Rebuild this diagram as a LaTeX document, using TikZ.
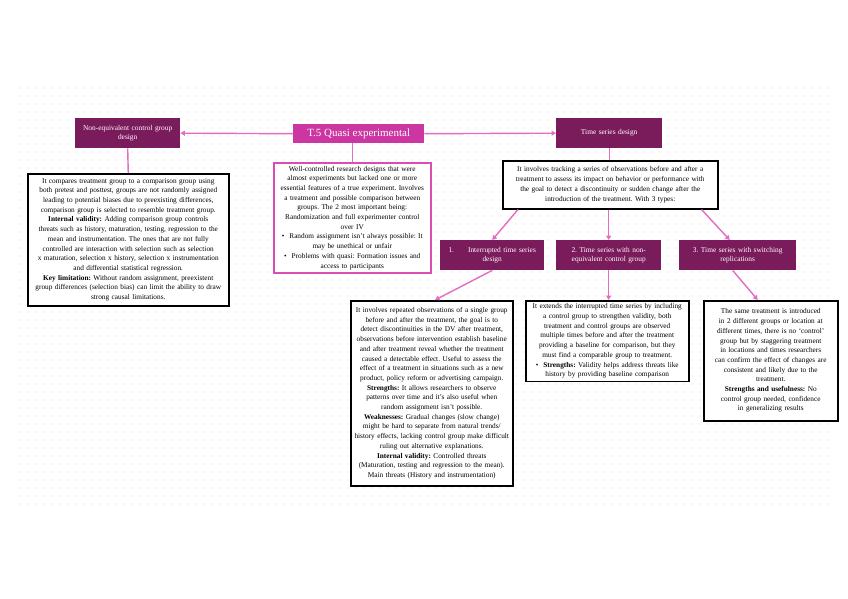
\documentclass[tikz,border=0pt]{standalone}
\usepackage{fontspec}
\setmainfont{Liberation Serif}
\usetikzlibrary{arrows.meta}
\definecolor{darkplum}{HTML}{7A1B5C}
\definecolor{magmain}{HTML}{CC36A3}
\definecolor{pinkline}{HTML}{E56BC3}
\definecolor{pinkborder}{HTML}{D94DB5}
\definecolor{dotgray}{HTML}{D0D0D0}
\newcommand{\boxfont}{\fontsize{7.3}{9.7}\selectfont\frenchspacing\hyphenpenalty=10000\exhyphenpenalty=10000}
\newcommand{\topicfont}{\fontsize{7.4}{9.6}\selectfont\frenchspacing\hyphenpenalty=10000}
\tikzset{
  topic/.style={fill=darkplum, text=white, font=\topicfont, align=center, inner sep=1pt, minimum height=30pt, anchor=north west},
  central/.style={fill=magmain, text=white, font=\fontsize{11}{13}\selectfont, inner sep=0pt, minimum height=19pt, minimum width=131pt, anchor=north west},
  textbox/.style={draw=black, line width=1.5pt, fill=white, inner xsep=2pt, inner ysep=3pt, align=center, anchor=north west, font=\boxfont},
  pinkbox/.style={textbox, draw=pinkborder},
  conn/.style={draw=pinkline, line width=1.4pt},
  arr/.style={conn, -{Triangle[length=4.5pt,width=5pt]}}
}
\newcommand{\bul}{\textbullet\hspace{5pt}}
\begin{document}
\begin{tikzpicture}[x=1pt,y=-1pt]
\useasboundingbox (0,0) rectangle (848,599);
\fill[white] (0,0) rectangle (848,599);
% dot grid
\foreach \i in {0,...,101}{
  \foreach \j in {0,...,52}{
    \fill[dotgray] (20+8*\i,88+8*\j) circle (0.6pt);
  }
}
% top level
\node[central] (t5) at (293,124) {T.5 Quasi experimental};
\node[topic, minimum width=105pt, text width=103pt] (neq) at (75,118) {Non-equivalent control group\\design};
\node[topic, minimum width=106pt, text width=104pt] (ts) at (556,118) {Time series design};

% text boxes
\node[textbox, text width=197pt, minimum height=132pt] (left) at (27,173) {It compares treatment group to a comparison group using\\
both pretest and posttest, groups are not randomly assigned\\
leading to potential biases due to preexisting differences,\\
comparison group is selected to resemble treatment group.\\
\textbf{Internal validity:} Adding comparison group controls\\
threats such as history, maturation, testing, regression to the\\
mean and instrumentation. The ones that are not fully\\
controlled are interaction with selection such as selection\\
x maturation, selection x history, selection x instrumentation\\
and differential statistical regression.\\
\textbf{Key limitation:} Without random assignment, preexistent\\
group differences (selection bias) can limit the ability to draw\\
strong causal limitations.};

\node[pinkbox, text width=153pt, minimum height=110pt] (mid) at (273,162) {Well-controlled research designs that were\\
almost experiments but lacked one or more\\
essential features of a true experiment. Involves\\
a treatment and possible comparison between\\
groups. The 2 most important being:\\
Randomization and full experimenter control\\
over IV\\
\bul Random assignment isn't always possible: It\\
may be unethical or unfair\\
\bul Problems with quasi: Formation issues and\\
access to participants};

\node[textbox, text width=211pt, minimum height=48pt] (tsbox) at (502,160) {It involves tracking a series of observations before and after a\\
treatment to assess its impact on behavior or performance with\\
the goal to detect a discontinuity or sudden change after the\\
introduction of the treatment. With 3 types:};

% subtopics
\node[topic, minimum width=104pt, text width=102pt] (s1) at (440,240) {1.\hspace{14pt}Interrupted time series\\design};
\node[topic, minimum width=105pt, text width=103pt] (s2) at (556,240) {2. Time series with non-\\equivalent control group};
\node[topic, minimum width=117pt, text width=115pt] (s3) at (679,240) {3. Time series with switching\\replications};

% bottom boxes
\node[textbox, text width=158pt, minimum height=185pt] (b1) at (350,300) {It involves repeated observations of a single group\\
before and after the treatment, the goal is to\\
detect discontinuities in the DV after treatment,\\
observations before intervention establish baseline\\
and after treatment reveal whether the treatment\\
caused a detectable effect. Useful to assess the\\
effect of a treatment in situations such as a new\\
product, policy reform or advertising campaign.\\
\textbf{Strengths:} It allows researchers to observe\\
patterns over time and it's also useful when\\
random assignment isn't possible.\\
\textbf{Weaknesses:} Gradual changes (slow change)\\
might be hard to separate from natural trends/\\
history effects, lacking control group make difficult\\
ruling out alternative explanations.\\
\textbf{Internal validity:} Controlled threats\\
(Maturation, testing and regression to the mean).\\
Main threats (History and instrumentation)};

\node[textbox, text width=159pt, minimum height=78pt] (b2) at (525,300) {It extends the interrupted time series by including\\
a control group to strengthen validity, both\\
treatment and control groups are observed\\
multiple times before and after the treatment\\
providing a baseline for comparison, but they\\
must find a comparable group to treatment.\\
\bul\textbf{Strengths:} Validity helps address threats like\\
history by providing baseline comparison};

\node[textbox, text width=130pt, minimum height=120pt] (b3) at (703,300) {The same treatment is introduced\\
in 2 different groups or location at\\
different times, there is no `control'\\
group but by staggering treatment\\
in locations and times researchers\\
can confirm the effect of changes are\\
consistent and likely due to the\\
treatment.\\
\textbf{Strengths and usefulness:} No\\
control group needed, confidence\\
in generalizing results};

% connectors
\draw[arr] (t5.west) -- (neq.east);
\draw[arr] (t5.east) -- (ts.west);
\draw[conn] (mid.north |- t5.south) -- (mid.north);
\draw[conn] (neq.south) -- (left.north);
\draw[conn] (ts.south) -- (ts.south |- tsbox.north);
\draw[arr] ([xshift=16pt]tsbox.south west) -- (s1.north);
\draw[arr] (tsbox.south -| s2.north) -- (s2.north);
\draw[arr] ([xshift=-17pt]tsbox.south east) -- ([xshift=-8pt]s3.north);
\draw[arr] (s1.south) -- ([xshift=85pt]b1.north west);
\draw[arr] (s2.south) -- (s2.south |- b2.north);
\draw[arr] ([xshift=-5pt]s3.south) -- ([xshift=-13pt]b3.north);
\end{tikzpicture}
\end{document}
